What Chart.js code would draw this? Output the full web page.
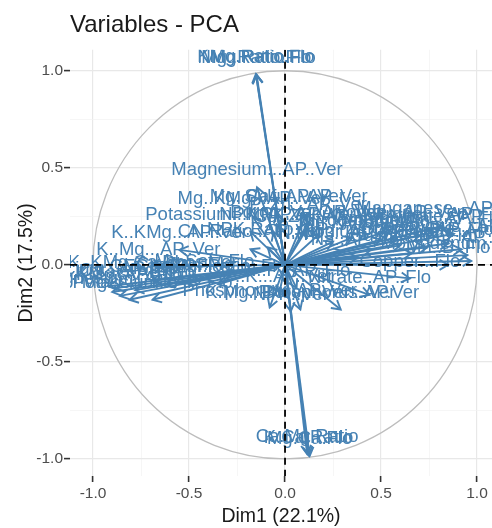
<!DOCTYPE html>
<html>
<head>
<meta charset="utf-8">
<script src="https://cdn.jsdelivr.net/npm/chart.js@4.4.1/dist/chart.umd.min.js"></script>
<style>
  html, body { margin: 0; padding: 0; background: #fff; }
</style>
</head>
<body>
<canvas id="chart" width="492" height="528"></canvas>
<script>
// variable names and their coordinates on Dim1 / Dim2
const varNames = [
  "NMg.Ratio.Flo", "KMg.Ratio.Flo", "Mg..Ratio.Flo",
  "Ca.Mg.Ratio", "K.Ca.Ratio", "Mg.Ca.Flo",
  "Magnesium...AP..Ver", "Mg..KMg...AP..Ver", "Mg..Ca...AP..Ver", "Sulfur...AP..Ver",
  "Boron..Ver.AP..Ver", "Potassium...NPK..AP..Ver", "NPK..AP..Ver", "K..KMg...AP..Ver",
  "CN.Ratio..AP..Ver", "NPK.Ratio..AP", "K..Mg...AP..Ver", "K..KMg.Ca.Phos.Ver",
  "Potassium...AP..Flo",
  "Calcium...AP..Flo", "Ca..KMg..AP..Flo", "K..Ca...AP..Flo", "Magnesium..AP..Flo",
  "Mg..Ca..Flo", "K.Sat...AP..Flo", "CEC...AP..Flo", "Ca.Sat...Flo", "Mg.Sat...Flo",
  "K..Mg..Ratio..Flo",
  "K.Mg..Phosphorus..Ver", "Phosphorus...AP..Ver", "NPK..Ver", "P..K...AP..Ver", "N..P...AP..Flo",
  "Nitrate..AP..Flo", "Boron..Ver...AP.Ver", "Copper...Flo", "Mn..B..Flo",
  "Nitrogen...AP..Flo", "Manganese...AP..Ver", "Ammonium...AP..Flo", "Nitrate...AP..Ver",
  "Boron...AP..Flo", "Zinc...AP..Flo", "Iron...AP..Ver", "Copper...AP..Flo",
  "Sulfur...AP..Flo", "Phosphorus...AP..Flo", "N..Total..Flo", "Sodium...AP..Ver",
  "Chloride...AP..Ver", "Nitrogen..Ver", "Molybdenum...AP..Ver", "Fe..Mn...AP..Flo",
  "N.NO3...AP..Flo", "Cu..Zn...AP..Ver", "Na..AP..Ver", "P..Zn...AP..Ver"
];
const dim1 = [
  -0.148, -0.152, -0.150,
  0.115, 0.122, 0.128,
  -0.146, -0.170, -0.040, 0.110,
  0.110, -0.180, -0.060, -0.550,
  -0.180, -0.090, -0.660, -0.690,
  -0.690,
  -0.920, -0.900, -0.880, -0.860,
  -0.810, -0.780, -0.620, -0.520, -0.420,
  -0.350,
  0.080, -0.080, 0.030, -0.030, 0.060,
  0.440, 0.290, 0.650, 0.850,
  0.780, 0.820, 0.700, 0.880,
  0.920, 0.600, 0.950, 0.740,
  0.660, 0.850, 0.500, 0.450,
  0.550, 0.350, 0.970, 0.250,
  0.300, 0.180, 0.380, 0.120
];
const dim2 = [
  0.980, 0.983, 0.978,
  -0.975, -0.980, -0.985,
  0.400, 0.250, 0.260, 0.260,
  0.180, 0.170, 0.170, 0.077,
  0.080, 0.090, -0.010, -0.077,
  -0.180,
  -0.110, -0.140, -0.120, -0.160,
  -0.180, -0.130, -0.100, -0.090, -0.070,
  -0.100,
  -0.230, -0.220, -0.240, -0.150, -0.120,
  -0.155, -0.230, -0.070, 0.000,
  0.170, 0.200, 0.150, 0.160,
  0.080, 0.100, 0.050, 0.090,
  0.060, 0.110, 0.130, 0.080,
  0.180, 0.140, 0.020, 0.120,
  0.070, 0.160, 0.040, 0.220
];
const axisTicks = [-1, -0.75, -0.5, -0.25, 0, 0.25, 0.5, 0.75, 1];

const BLUE = "#4682B4";
const isMajor = (v) => Math.abs(v * 2 - Math.round(v * 2)) < 1e-9;

// circle, arrows, labels and dashed zero lines
const pcaPlugin = {
  id: "pca",
  beforeDatasetsDraw(chart) {
    const { ctx, chartArea: a, scales: { x, y } } = chart;
    const cx = x.getPixelForValue(0), cy = y.getPixelForValue(0);
    ctx.save();
    ctx.beginPath();
    ctx.rect(a.left, a.top, a.width, a.height);
    ctx.clip();
    ctx.strokeStyle = "#bdbdbd";
    ctx.lineWidth = 1.3;
    ctx.beginPath();
    ctx.ellipse(cx, cy, x.getPixelForValue(1) - cx, cy - y.getPixelForValue(1), 0, 0, Math.PI * 2);
    ctx.stroke();
    ctx.restore();
  },
  afterDatasetsDraw(chart) {
    const { ctx, chartArea: a, scales: { x, y } } = chart;
    const ox = x.getPixelForValue(0), oy = y.getPixelForValue(0);
    const pts = chart.getDatasetMeta(0).data;
    ctx.save();
    ctx.beginPath();
    ctx.rect(a.left, a.top, a.width, a.height);
    ctx.clip();

    // arrows
    ctx.strokeStyle = BLUE;
    ctx.lineWidth = 1.9;
    pts.forEach((p) => {
      ctx.beginPath();
      ctx.moveTo(ox, oy);
      ctx.lineTo(p.x, p.y);
      ctx.stroke();
      const ang = Math.atan2(p.y - oy, p.x - ox);
      const L = 10, w = Math.PI / 6;
      ctx.beginPath();
      ctx.moveTo(p.x - L * Math.cos(ang - w), p.y - L * Math.sin(ang - w));
      ctx.lineTo(p.x, p.y);
      ctx.lineTo(p.x - L * Math.cos(ang + w), p.y - L * Math.sin(ang + w));
      ctx.stroke();
    });

    // labels
    ctx.fillStyle = BLUE;
    ctx.font = '18.5px "Liberation Sans", Arial, sans-serif';
    ctx.textAlign = "center";
    ctx.textBaseline = "middle";
    pts.forEach((p, i) => {
      ctx.fillText(varNames[i], p.x, p.y - 17);
    });

    // dashed zero lines
    ctx.strokeStyle = "#000";
    ctx.lineWidth = 1.8;
    ctx.setLineDash([7, 5]);
    ctx.beginPath();
    ctx.moveTo(a.left, oy);
    ctx.lineTo(a.right, oy);
    ctx.moveTo(ox, a.top);
    ctx.lineTo(ox, a.bottom);
    ctx.stroke();
    ctx.restore();
  }
};

function axis(min, max, titleText, pos) {
  return {
    type: "linear",
    position: pos,
    min: min,
    max: max,
    afterBuildTicks: (s) => { s.ticks = axisTicks.map((v) => ({ value: v })); },
    ticks: {
      autoSkip: false,
      maxRotation: 0,
      color: "#4d4d4d",
      font: { family: '"Liberation Sans", Arial, sans-serif', size: 15.5 },
      padding: pos === "bottom" ? 2 : 1,
      callback: (v) => (isMajor(v) ? Number(v).toFixed(1) : "")
    },
    grid: {
      color: (c) => (isMajor(c.tick.value) ? "#e8e8e8" : "#f2f2f2"),
      lineWidth: (c) => (isMajor(c.tick.value) ? 1.2 : 0.7),
      drawTicks: true,
      tickLength: 6,
      tickWidth: 1.6,
      tickColor: (c) => (isMajor(c.tick.value) ? "#333" : "rgba(0,0,0,0)")
    },
    border: { display: false },
    title: {
      display: true,
      text: titleText,
      color: "#1a1a1a",
      font: { family: '"Liberation Sans", Arial, sans-serif', size: 19.5 },
      padding: pos === "bottom" ? { top: 0, bottom: 0 } : { top: 15, bottom: 0 }
    },
    afterFit: (s) => {
      if (pos === "bottom") s.height = 52;
      else s.width = 70;
    }
  };
}

const ctx = document.getElementById("chart").getContext("2d");
const chart = new Chart(ctx, {
  type: "scatter",
  data: {
    datasets: [{
      data: varNames.map((n, i) => ({ x: dim1[i], y: dim2[i] })),
      pointRadius: 0,
      pointHoverRadius: 0,
      backgroundColor: BLUE,
      borderColor: BLUE
    }]
  },
  options: {
    responsive: false,
    animation: false,
    devicePixelRatio: 1,
    layout: { padding: 0 },
    events: [],
    scales: {
      x: axis(-1.12, 1.078, "Dim1 (22.1%)", "bottom"),
      y: axis(-1.088, 1.108, "Dim2 (17.5%)", "left")
    },
    plugins: {
      legend: { display: false },
      tooltip: { enabled: false },
      title: {
        display: true,
        text: "Variables - PCA",
        align: "start",
        fullSize: false,
        color: "#1a1a1a",
        font: { family: '"Liberation Sans", Arial, sans-serif', size: 24, weight: "normal" },
        padding: { top: 11, bottom: 10 }
      }
    }
  },
  plugins: [pcaPlugin]
});
</script>
</body>
</html>
